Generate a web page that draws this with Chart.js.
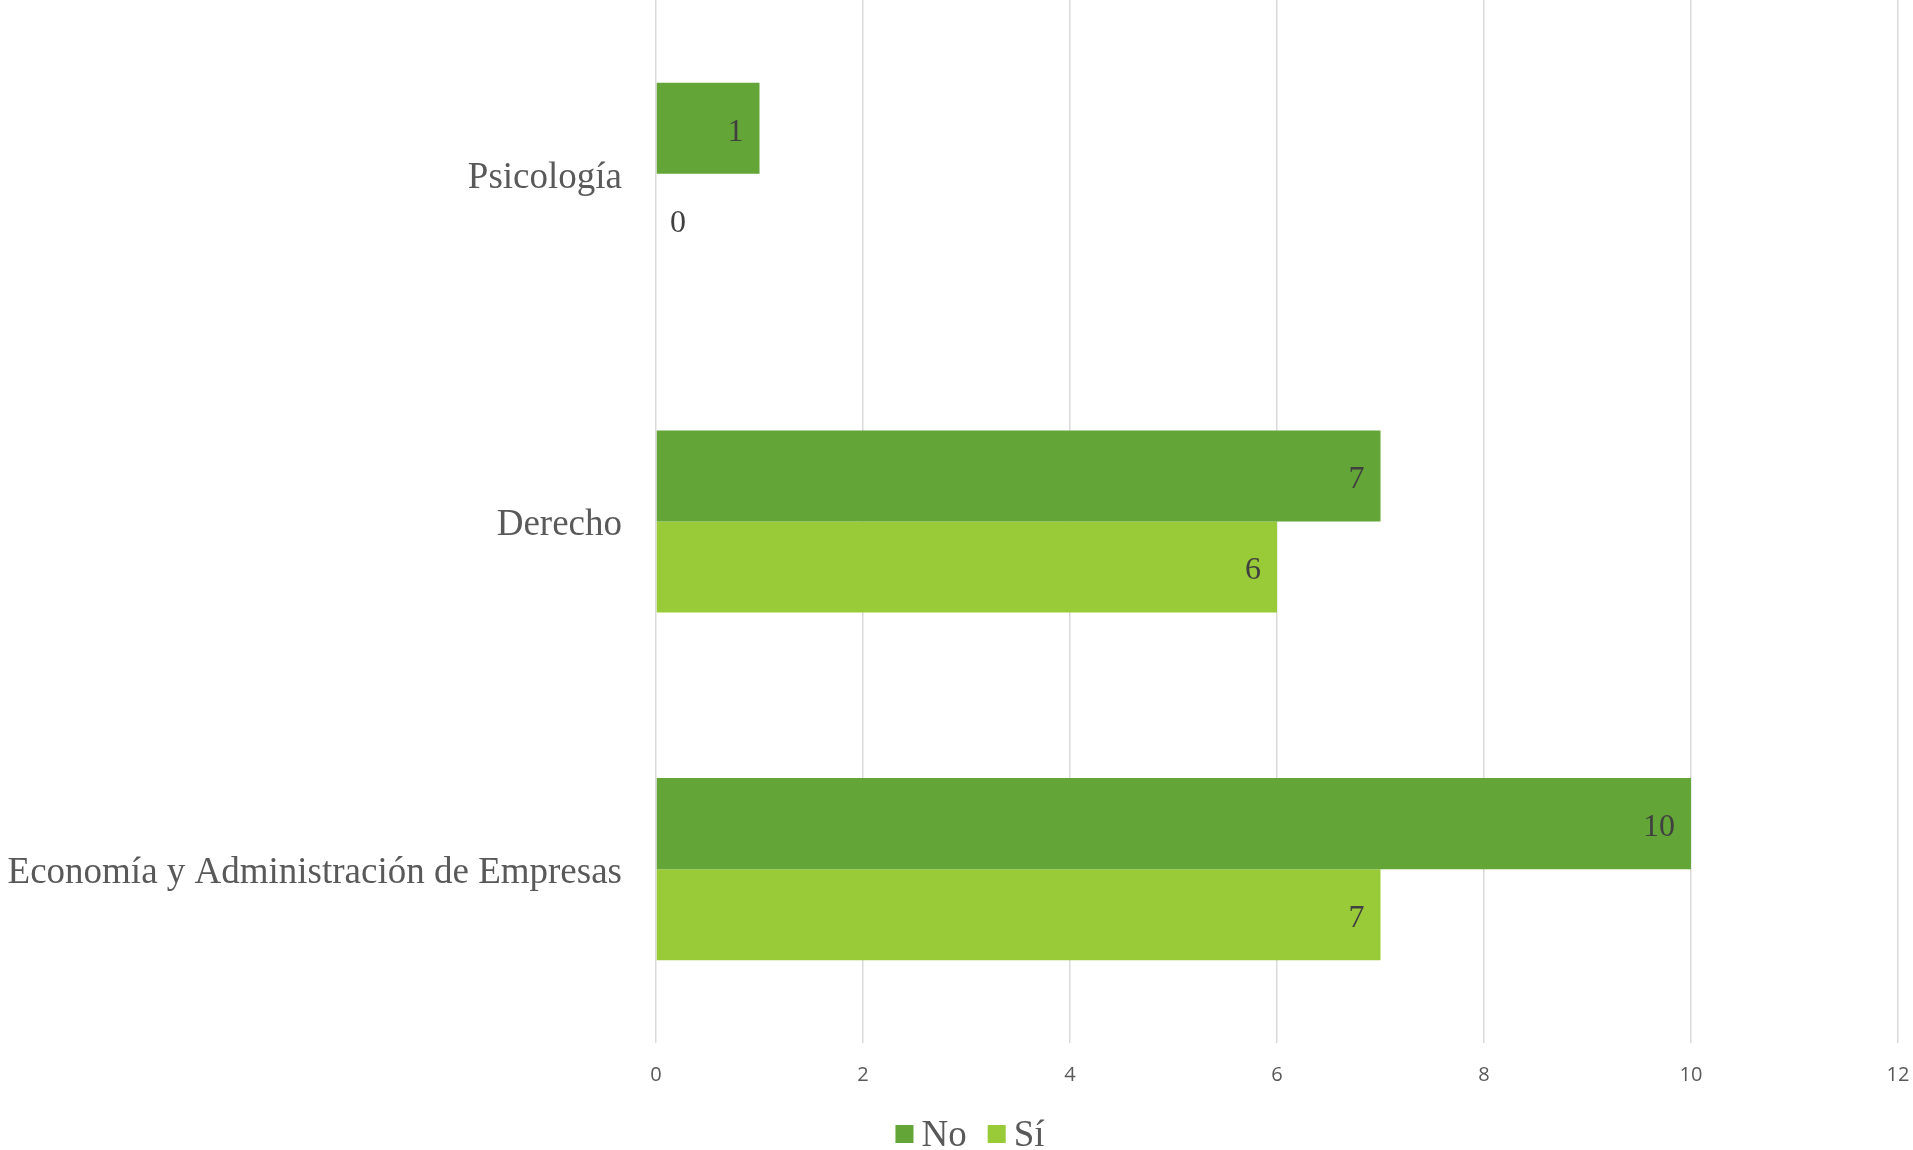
<!DOCTYPE html>
<html>
<head>
<meta charset="utf-8">
<script src="https://cdn.jsdelivr.net/npm/chart.js@4.4.1/dist/chart.umd.min.js"></script>
<style>
  html, body { margin: 0; padding: 0; background: #fff; }
  #wrap { width: 1913px; height: 1150px; position: relative; }
</style>
</head>
<body>
<div id="wrap"><canvas id="chart"></canvas></div>
<script>
const categories = ['Psicología', 'Derecho', 'Economía y Administración de Empresas'];
const seriesNames = ['No', 'Sí'];
const noValues = [1, 7, 10];
const siValues = [0, 6, 7];
const xTicks = [0, 2, 4, 6, 8, 10, 12];

const colors = ['#63A537', '#99CB38'];
const serif = '"Liberation Serif", "Times New Roman", serif';

// value labels at the end of each bar
const barLabels = {
  id: 'barLabels',
  afterDatasetsDraw(chart) {
    const ctx = chart.ctx;
    ctx.save();
    ctx.font = '32px ' + serif;
    ctx.fillStyle = '#404040';
    ctx.textBaseline = 'middle';
    chart.data.datasets.forEach((ds, i) => {
      const meta = chart.getDatasetMeta(i);
      meta.data.forEach((bar, j) => {
        const v = ds.data[j];
        if (v > 0) {
          ctx.textAlign = 'right';
          ctx.fillText(String(v), bar.x - 16, bar.y + 4);
        } else {
          ctx.textAlign = 'left';
          ctx.fillText(String(v), bar.x + 14, bar.y + 4);
        }
      });
    });
    ctx.restore();
  }
};

// legend drawn below the axis
const bottomLegend = {
  id: 'bottomLegend',
  afterDraw(chart) {
    const ctx = chart.ctx;
    ctx.save();
    ctx.font = '37px ' + serif;
    const box = 18, gapText = 8, gapItem = 21;
    const items = chart.data.datasets.map(ds => ({
      text: ds.label, color: ds.backgroundColor, w: box + gapText + ctx.measureText(ds.label).width
    }));
    const total = items.reduce((s, it) => s + it.w, 0) + gapItem * (items.length - 1);
    let x = 970 - total / 2;
    const cy = 1134;
    items.forEach(it => {
      ctx.fillStyle = it.color;
      ctx.fillRect(x, cy - box / 2, box, box);
      ctx.fillStyle = '#595959';
      ctx.textAlign = 'left';
      ctx.textBaseline = 'alphabetic';
      ctx.fillText(it.text, x + box + gapText, cy + 12);
      x += it.w + gapItem;
    });
    ctx.restore();
  }
};

new Chart(document.getElementById('chart'), {
  type: 'bar',
  data: {
    labels: categories,
    datasets: [
      { label: seriesNames[0], data: noValues, backgroundColor: colors[0] },
      { label: seriesNames[1], data: siValues, backgroundColor: colors[1] }
    ]
  },
  options: {
    indexAxis: 'y',
    responsive: true,
    maintainAspectRatio: false,
    animation: false,
    categoryPercentage: 0.524,
    barPercentage: 1,
    layout: { padding: { left: 0, right: 15, top: 0, bottom: 0 } },
    plugins: {
      legend: { display: false },
      tooltip: { enabled: false }
    },
    scales: {
      x: {
        min: 0,
        max: 12,
        afterBuildTicks: scale => { scale.ticks = xTicks.map(v => ({ value: v })); },
        afterFit: scale => {
          scale.height = 107;
          scale.paddingLeft = 0;
          scale.paddingRight = 0;
        },
        grid: { color: '#D9D9D9', lineWidth: 1.5, drawTicks: false },
        border: { display: false },
        ticks: {
          padding: 20,
          color: '#595959',
          font: { family: '"Open Sans", "Liberation Sans", sans-serif', size: 20 },
          maxRotation: 0
        }
      },
      y: {
        afterFit: scale => {
          scale.width = 656;
          scale.paddingTop = 0;
          scale.paddingBottom = 0;
        },
        grid: { display: false, drawTicks: false },
        border: { display: false },
        ticks: {
          padding: 34,
          labelOffset: 4,
          color: '#595959',
          font: { family: serif, size: 37 }
        }
      }
    }
  },
  plugins: [barLabels, bottomLegend]
});
</script>
</body>
</html>
